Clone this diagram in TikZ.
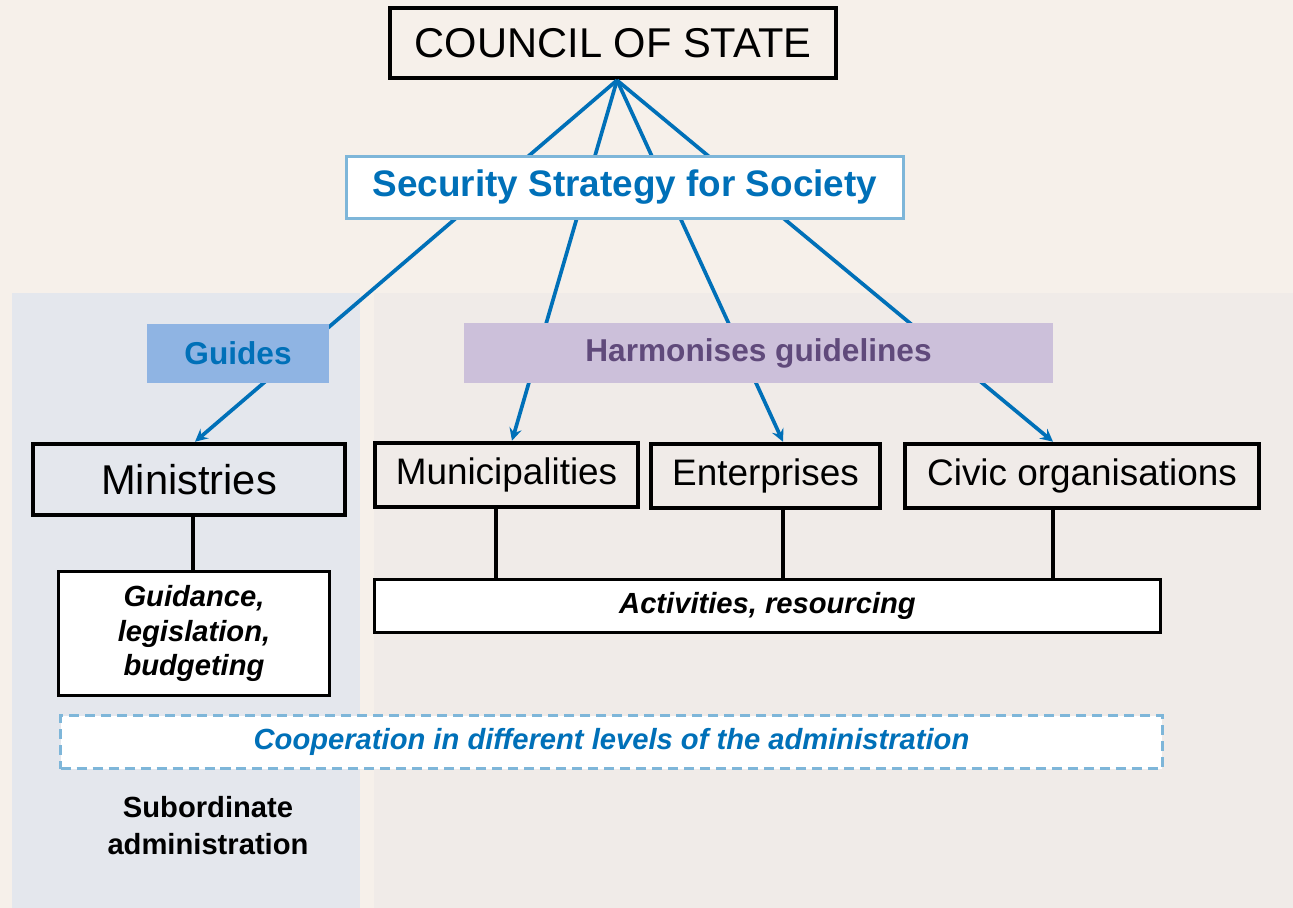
\documentclass[tikz,border=0pt]{standalone}
\usepackage{fontspec}
\setmainfont{Liberation Sans}
\usetikzlibrary{arrows,shapes}
\usetikzlibrary{positioning}
\definecolor{pagebg}{RGB}{246,240,234}
\definecolor{leftpanel}{RGB}{228,231,237}
\definecolor{rightpanel}{RGB}{240,235,232}
\definecolor{linkblue}{RGB}{0,112,184}
\definecolor{paleblue}{RGB}{126,182,217}
\definecolor{guidefill}{RGB}{143,180,227}
\definecolor{harmfill}{RGB}{204,192,218}
\definecolor{harmtext}{RGB}{96,74,123}
\newcommand{\bigsize}{\fontsize{23.7}{28}\selectfont}
\newcommand{\midsize}{\fontsize{21}{25}\selectfont}
\newcommand{\tagsize}{\fontsize{18}{22}\selectfont}
\newcommand{\notesize}{\fontsize{16.6}{19.8}\selectfont}
\tikzstyle{box}=[draw=black, line width=2.6pt, inner sep=0pt]
\tikzstyle{notebox}=[draw=black, line width=2pt, fill=white, inner sep=0pt]
\tikzstyle{tag}=[inner sep=0pt, font=\tagsize\bfseries]
\tikzstyle{link}=[draw=linkblue, line width=2.1pt, ->, >=stealth]
\tikzstyle{tie}=[draw=black, line width=2pt]

\begin{document}
\begin{tikzpicture}[x=0.02cm, y=-0.02cm]
% page and the two panels
\fill[pagebg] (0,0) rectangle (1293,908);
\useasboundingbox (0,0) rectangle (1293,908);
\fill[leftpanel] (12,293) rectangle (360,908);
\fill[rightpanel] (374,293) rectangle (1293,908);

% boxes
\node[box, minimum width=8.92cm, minimum height=1.4cm] (council) at (613,43) {\bigsize COUNCIL OF STATE};
\node[box, minimum width=6.24cm, minimum height=1.42cm] (ministries) at (189,479.5) {\bigsize Ministries};
\node[box, minimum width=5.26cm, minimum height=1.28cm] (munic) at (506.5,475) {\midsize Municipalities};
\node[box, minimum width=4.58cm, minimum height=1.28cm] (ents) at (765.5,476) {\midsize Enterprises};
\node[box, minimum width=7.08cm, minimum height=1.28cm] (civic) at (1082,476) {\midsize Civic organisations};
\node[notebox, minimum width=5.42cm, minimum height=2.48cm, align=center, font=\notesize\bfseries\itshape] (guidance) at (194,633.5) {Guidance,\\legislation,\\budgeting};
\node[notebox, minimum width=15.72cm, minimum height=1.06cm, font=\notesize\bfseries\itshape] (acts) at (767.5,606) {Activities, resourcing};

% arrows from the council
\draw[link] ([xshift=0.08cm]council.south) -- ([xshift=0.12cm]ministries.north);
\draw[link] ([xshift=0.08cm]council.south) -- ([xshift=0.11cm]munic.north);
\draw[link] ([xshift=0.08cm]council.south) -- ([xshift=0.35cm]ents.north);
\draw[link] ([xshift=0.08cm]council.south) -- ([xshift=-0.58cm]civic.north);

% ties down to the notes
\draw[tie] ([xshift=0.08cm]ministries.south) -- ([xshift=0.08cm]ministries.south |- guidance.north);
\draw[tie] ([xshift=-0.21cm]munic.south) -- ([xshift=-0.21cm]munic.south |- acts.north);
\draw[tie] ([xshift=0.35cm]ents.south) -- ([xshift=0.35cm]ents.south |- acts.north);
\draw[tie] ([xshift=-0.58cm]civic.south) -- ([xshift=-0.58cm]civic.south |- acts.north);

% labels on top of the arrows
\node[draw=paleblue, line width=1.9pt, fill=white, inner sep=0pt, minimum width=11.14cm, minimum height=1.24cm, text=linkblue, font=\midsize\bfseries] (strategy) at (625,187.5) {Security Strategy for Society};
\node[tag, fill=guidefill, minimum width=3.64cm, minimum height=1.18cm, text=linkblue] (guides) at (238,353.5) {Guides};
\node[tag, fill=harmfill, minimum width=11.78cm, minimum height=1.2cm, text=harmtext] (harmon) at (758.5,353) {Harmonises guidelines};

\node[draw=paleblue, dash pattern=on 5.7pt off 3.4pt, line width=1.9pt, fill=white, inner sep=0pt, minimum width=22.04cm, minimum height=1.06cm, text=linkblue, font=\notesize\bfseries\itshape] (coop) at (611.5,742) {Cooperation in different levels of the administration};
\node[align=center, font=\fontsize{16.6}{21}\selectfont\bfseries] (subord) at (208,826) {Subordinate\\administration};
\end{tikzpicture}
\end{document}
